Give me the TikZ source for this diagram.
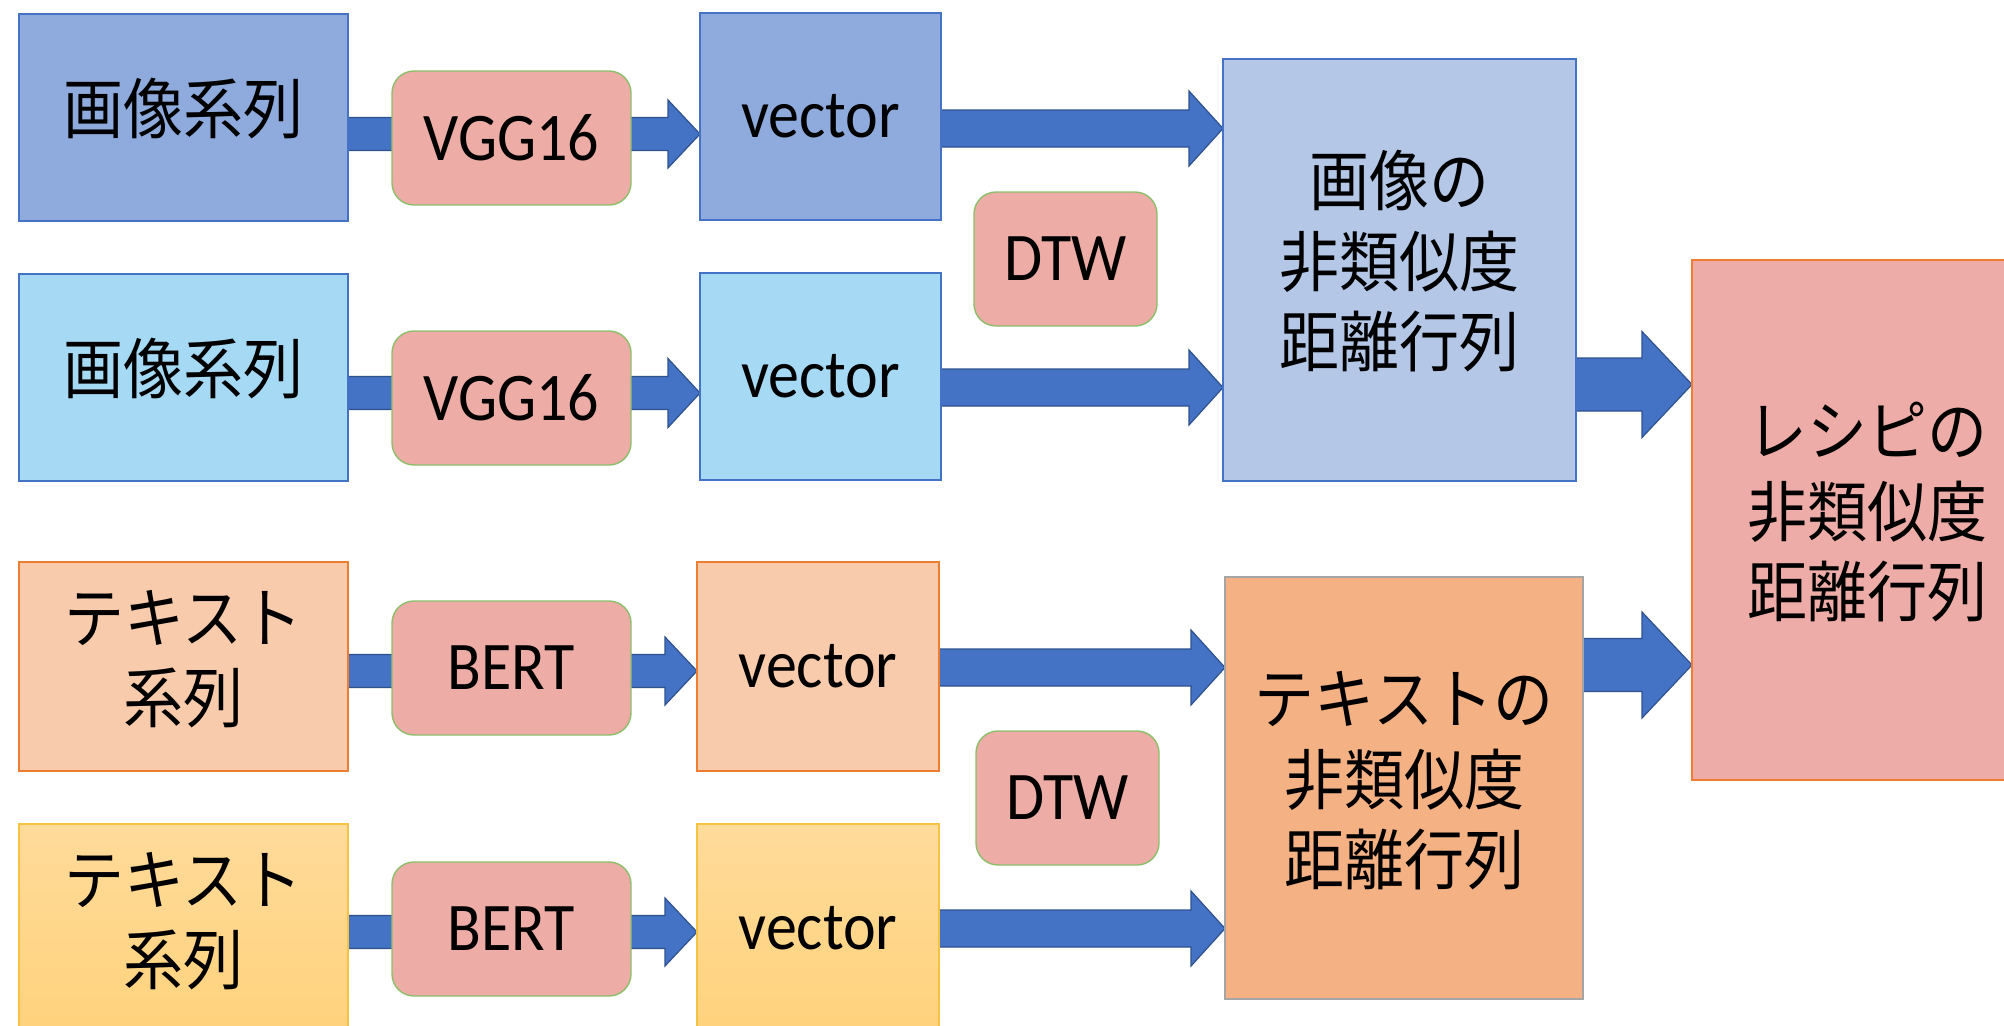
\documentclass[tikz,border=0pt]{standalone}
\usepackage{fontspec}
\setmainfont{Carlito}
\newfontfamily\jp{Noto Sans CJK JP}
\usepackage{graphicx}
\usetikzlibrary{backgrounds,calc}

\definecolor{bluefill}{HTML}{8FAADC}
\definecolor{blueline}{HTML}{4472C4}
\definecolor{cyanfill}{HTML}{A6D9F4}
\definecolor{matfill}{HTML}{B4C7E7}
\definecolor{pinkfill}{HTML}{EDACA6}
\definecolor{greenline}{HTML}{8CBF6A}
\definecolor{peachfill}{HTML}{F8CBAD}
\definecolor{orangeline}{HTML}{ED7D31}
\definecolor{yeltop}{HTML}{FFDB9A}
\definecolor{yelbot}{HTML}{FFD27C}
\definecolor{yelline}{HTML}{F5C242}
\definecolor{mattwofill}{HTML}{F4B183}
\definecolor{greyline}{HTML}{A5A5A5}
\definecolor{recfill}{HTML}{EDACA7}
\definecolor{arrfill}{HTML}{4472C4}
\definecolor{arrline}{HTML}{2F528F}

\newcommand\lt[1]{\scalebox{1}[1.1]{#1}}
\newcommand\jt[1]{\scalebox{1}[1.1]{\jp\begin{tabular}{@{}c@{}}#1\end{tabular}}}

% block arrow: from anchor, to anchor, centre y (px), shaft half, head half, head length
\newcommand\blockarr[6]{%
  \draw[arr] let \p1=(#1), \p2=(#2), \p3=(0,#3) in
    (\x1,{\y3+#4*0.5pt}) -- ({\x2-#6*0.5pt},{\y3+#4*0.5pt})
    -- ({\x2-#6*0.5pt},{\y3+#5*0.5pt}) -- (\x2,\y3)
    -- ({\x2-#6*0.5pt},{\y3-#5*0.5pt}) -- ({\x2-#6*0.5pt},{\y3-#4*0.5pt})
    -- (\x1,{\y3-#4*0.5pt}) -- cycle;}

\tikzset{
  sz/.style 2 args={minimum width={#1*0.5pt}, minimum height={#2*0.5pt}},
  bx/.style={rectangle, inner sep=0pt, outer sep=0pt},
  latin/.style={font=\fontsize{31}{37}\selectfont},
  jpn/.style={font=\fontsize{30}{36.4}\selectfont},
  srcA/.style={bx, fill=bluefill, draw=blueline, line width=1pt},
  srcB/.style={bx, fill=cyanfill, draw=blueline, line width=0.8pt},
  srcC/.style={bx, fill=peachfill, draw=orangeline, line width=1.3pt},
  srcD/.style={bx, top color=yeltop, bottom color=yelbot, draw=yelline, line width=0.8pt},
  model/.style={bx, fill=pinkfill, draw=greenline, line width=0.7pt, rounded corners=11pt, latin},
  matA/.style={bx, fill=matfill, draw=blueline, line width=0.7pt, jpn},
  matB/.style={bx, fill=mattwofill, draw=greyline, line width=0.8pt, jpn},
  rec/.style={bx, fill=recfill, draw=orangeline, line width=0.8pt, jpn},
  arr/.style={fill=arrfill, draw=arrline, line width=0.6pt, line join=miter},
}

\begin{document}
\begin{tikzpicture}[x=0.5pt, y=-0.5pt]
\useasboundingbox (0,0) rectangle (2004,1025);
\begin{scope}
\clip (0,0) rectangle (2004,1025);
% row 1
\node[srcA, jpn, sz={329}{207}] (b1) at (183.5,117.5) {\jt{画像系列}};
\node[model, sz={239}{134}] (g1) at (511.5,138) {\lt{VGG16}};
\node[srcA, latin, sz={241}{207}] (v1) at (820.5,116.5) {\lt{vector}};
% row 2
\node[srcB, jpn, sz={329}{207}] (b2) at (183.5,377.5) {\jt{画像系列}};
\node[model, sz={239}{134}] (g2) at (511.5,398) {\lt{VGG16}};
\node[srcB, latin, sz={241}{207}] (v2) at (820.5,376.5) {\lt{vector}};
% row 3
\node[srcC, jpn, sz={329}{209}] (b3) at (183.5,666.5) {\jt{テキスト\\系列}};
\node[model, sz={239}{134}] (e1) at (511.5,668) {\lt{BERT}};
\node[srcC, latin, sz={242}{209}] (v3) at (818,666.5) {\lt{vector}};
% row 4
\node[srcD, jpn, sz={329}{209}] (b4) at (183.5,928.5) {\jt{テキスト\\系列}};
\node[model, sz={239}{134}] (e2) at (511.5,929) {\lt{BERT}};
\node[srcD, latin, sz={242}{209}] (v4) at (818,928.5) {\lt{vector}};
% DTW
\node[model, sz={183}{134}] (d1) at (1065.5,259) {\lt{DTW}};
\node[model, sz={183}{134}] (d2) at (1067.5,798) {\lt{DTW}};
% matrices
\node[matA, sz={353}{422}] (m1) at (1399.5,270) {\jt{画像の\\非類似度\\距離行列}};
\node[matB, sz={358}{422}] (m2) at (1404,788) {\jt{テキストの\\非類似度\\距離行列}};
% recipe
\node[rec, sz={351}{520}] (r) at (1867.5,520) {\jt{レシピの\\非類似度\\距離行列}};
\end{scope}

\begin{pgfonlayer}{background}
\fill[white] (0,0) rectangle (2004,1025);
\blockarr{b1.east}{v1.west}{134}{16.5}{34}{32}
\blockarr{b2.east}{v2.west}{393}{16.5}{34.5}{32}
\blockarr{b3.east}{v3.west}{671}{16.5}{34}{32}
\blockarr{b4.east}{v4.west}{932}{16.5}{34}{32}
\blockarr{v1.east}{m1.west}{128.5}{18.5}{37.5}{34}
\blockarr{v2.east}{m1.west}{387.5}{18.5}{37.5}{34}
\blockarr{v3.east}{m2.west}{667.5}{18.5}{37.5}{34}
\blockarr{v4.east}{m2.west}{928.5}{18.5}{37.5}{34}
\blockarr{m1.east}{r.west}{384.5}{26.5}{53}{50}
\blockarr{m2.east}{r.west}{665}{26.5}{53}{50}
\end{pgfonlayer}
\end{tikzpicture}
\end{document}
